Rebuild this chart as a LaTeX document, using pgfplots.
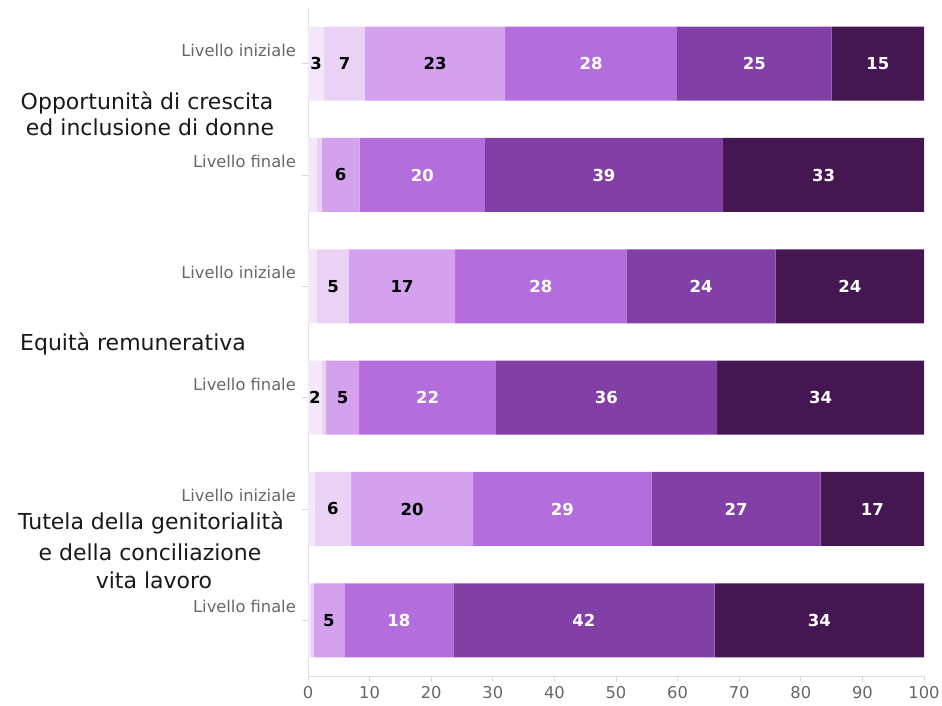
\documentclass[border=0pt]{standalone}
\usepackage{pgfplots}
\pgfplotsset{compat=1.18}
\usepackage{pgfplotstable}
\usepackage{fontspec}
\setmainfont{DejaVu Sans}
\definecolor{c1}{HTML}{F3E8FA}
\definecolor{c2}{HTML}{EAD2F5}
\definecolor{c3}{HTML}{D4A1EF}
\definecolor{c4}{HTML}{B46DDC}
\definecolor{c5}{HTML}{823FA6}
\definecolor{c6}{HTML}{451752}
\definecolor{tickgray}{HTML}{666666}
\pgfkeys{/pgf/number format/assume math mode=true}
% values (percent) and their printed labels
\pgfplotstableread{
y s1 s2 s3 s4 s5 s6 l1 l2 l3 l4 l5 l6
5 2.6 6.65 22.75 27.9 25.1 15.0 3 7 23 28 25 15
4 1.4 0.8 6.2 20.3 38.7 32.6 {} {} 6 20 39 33
3 1.5 5.15 17.25 27.8 24.2 24.1 {} 5 17 28 24 24
2 2.2 0.7 5.4 22.2 35.9 33.6 2 {} 5 22 36 34
1 1.1 5.9 19.8 29.0 27.4 16.8 {} 6 20 29 27 17
0 0.4 0.5 5.0 17.7 42.4 34.0 {} {} 5 18 42 34
}\data
\pgfplotsset{
  seg/.style 2 args={
    fill=#1, draw=none,
    point meta=explicit symbolic,
    visualization depends on={\thisrow{s#2} \as \rawx},
    nodes near coords,
    nodes near coords style={anchor=center, inner sep=0pt, font=\fontsize{16.5}{19}\selectfont\bfseries},
  },
}
\begin{document}
\begin{tikzpicture}
\useasboundingbox (-308pt,-30pt) rectangle (634pt,676pt);
\begin{axis}[
  at={(0pt,0pt)}, anchor=south west,
  scale only axis, width=616pt, height=668pt,
  xbar stacked, bar width=74pt,
  xmin=0, xmax=100, ymin=-0.5, ymax=5.5,
  xtick={0,10,...,100},
  ytick={0,1,2,3,4,5},
  yticklabels={Livello finale,Livello iniziale,Livello finale,Livello iniziale,Livello finale,Livello iniziale},
  axis x line*=bottom, axis y line*=left,
  axis line style={draw=black!12},
  tick align=outside,
  major tick length=6pt,
  tick style={draw=black!15, line width=0.8pt},
  ticklabel style={font=\fontsize{16.3}{19}\selectfont, text=tickgray},
  yticklabel style={anchor=south east, inner sep=0pt, xshift=-6pt, yshift=7pt},
  xticklabel style={yshift=-1pt},
  /pgf/number format/assume math mode=true,
  clip=false,
]
\addplot[seg={c1}{1}, nodes near coords style={text=black}] table[x=s1,y=y,meta=l1]{\data};
\addplot[seg={c2}{2}, nodes near coords style={text=black}] table[x=s2,y=y,meta=l2]{\data};
\addplot[seg={c3}{3}, nodes near coords style={text=black}] table[x=s3,y=y,meta=l3]{\data};
\addplot[seg={c4}{4}, nodes near coords style={text=white}] table[x=s4,y=y,meta=l4]{\data};
\addplot[seg={c5}{5}, nodes near coords style={text=white}] table[x=s5,y=y,meta=l5]{\data};
\addplot[seg={c6}{6}, nodes near coords style={text=white}] table[x=s6,y=y,meta=l6]{\data};
\end{axis}
\begin{scope}[every node/.style={anchor=base, inner sep=0pt, font=\fontsize{22}{26}\selectfont, text=black!90}]
\node at (-161pt,566pt) {Opportunità di crescita};
\node at (-158pt,540pt) {ed inclusione di donne};
\node at (-175pt,325pt) {Equità remunerativa};
\node at (-157pt,146pt) {Tutela della genitorialità};
\node at (-158pt,115pt) {e della conciliazione};
\node at (-154pt,87pt) {vita lavoro};
\end{scope}
\end{tikzpicture}
\end{document}
